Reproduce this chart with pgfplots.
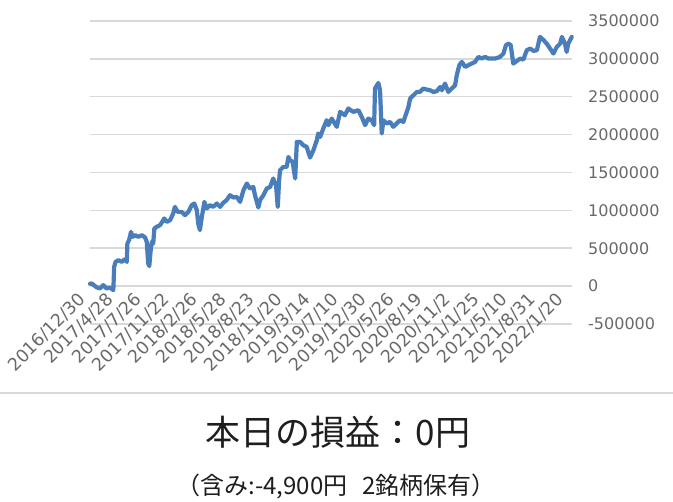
\documentclass[border=0pt]{standalone}
\usepackage{fontspec}
\setmainfont{DejaVu Sans}
\newfontfamily\jp{Noto Sans CJK JP}
\usepackage{pgfplots}
\pgfplotsset{compat=1.18}
\definecolor{lineblue}{RGB}{74,126,187}
\definecolor{gridgray}{RGB}{217,217,217}
\definecolor{labelgray}{RGB}{105,105,105}
\definecolor{titlegray}{RGB}{30,30,30}

\begin{document}
\begin{tikzpicture}[x=1pt,y=1pt]
\useasboundingbox (0,0) rectangle (673,502);
\begin{axis}[
    at={(90pt,178pt)}, anchor=south west,
    scale only axis, width=482pt, height=303pt,
    xmin=0, xmax=17.15,
    ymin=-500000, ymax=3500000,
    axis line style={draw=none},
    major tick length=0pt,
    ymajorgrids,
    grid style={gridgray, line width=1.5pt},
    ytick={-500000,0,500000,1000000,1500000,2000000,2500000,3000000,3500000},
    yticklabels={-500000,0,500000,1000000,1500000,2000000,2500000,3000000,3500000},
    scaled y ticks=false,
    yticklabel pos=right,
    yticklabel style={anchor=west, inner sep=0pt, xshift=16pt,
        font=\fontsize{16}{16}\selectfont, text=labelgray},
    xtick={0,...,17},
    xticklabels={2016/12/30,2017/4/28,2017/7/26,2017/11/22,2018/2/26,2018/5/28,
        2018/8/23,2018/11/20,2019/3/14,2019/7/10,2019/12/30,2020/5/26,2020/8/19,
        2020/11/2,2021/1/25,2021/5/10,2021/8/31,2022/1/20},
    xticklabel style={rotate=45, anchor=north east, inner sep=0pt,
        xshift=14pt, yshift=32pt,
        font=\fontsize{17.5}{17.5}\selectfont, text=labelgray},
    clip=false,
]
% daily cumulative P/L (x in label intervals)
\addplot[lineblue, line width=4.2pt, line join=round, line cap=round, mark=none] coordinates {
    (0,30000) (0.06,35000) (0.24,-17000) (0.36,-30000) (0.47,13000) (0.59,-30000)
    (0.71,-20000) (0.83,-53000) (0.86,255000) (0.91,320000) (1.01,343000) (1.13,320000)
    (1.23,352000) (1.31,320000) (1.33,563000) (1.39,607000) (1.46,716000) (1.51,650000)
    (1.60,673000) (1.72,650000) (1.84,673000) (1.96,642000) (2.02,585000) (2.07,300000)
    (2.11,264000) (2.16,475000) (2.20,585000) (2.25,563000) (2.29,761000) (2.37,782000)
    (2.49,805000) (2.57,848000) (2.64,893000) (2.73,848000) (2.85,870000) (2.96,959000)
    (3.02,1046000) (3.12,980000) (3.26,980000) (3.38,937000) (3.50,980000) (3.62,1069000)
    (3.71,1091000) (3.80,1003000) (3.85,827000) (3.91,739000) (3.98,914000) (4.07,1112000)
    (4.15,1025000) (4.27,1069000) (4.39,1046000) (4.51,1091000) (4.63,1046000) (4.74,1099000)
    (4.86,1135000) (4.98,1200000) (5.10,1170000) (5.22,1178000) (5.34,1112000) (5.46,1266000)
    (5.58,1354000) (5.69,1289000) (5.81,1310000) (5.87,1200000) (5.99,1038000) (6.05,1135000)
    (6.17,1200000) (6.29,1289000) (6.41,1310000) (6.52,1420000) (6.62,1332000) (6.68,1046000)
    (6.73,1398000) (6.76,1530000) (6.88,1574000) (7.00,1574000) (7.06,1706000) (7.12,1662000)
    (7.21,1640000) (7.30,1420000) (7.36,1904000) (7.47,1904000) (7.59,1860000) (7.71,1838000)
    (7.83,1697000) (7.95,1794000) (8.07,1926000) (8.12,2015000) (8.19,1970000) (8.30,2080000)
    (8.42,2190000) (8.48,2125000) (8.60,2212000) (8.78,2103000) (8.90,2300000) (9.07,2256000)
    (9.19,2345000) (9.37,2300000) (9.55,2322000) (9.67,2234000) (9.79,2125000) (9.90,2212000)
    (10.02,2190000) (10.11,2125000) (10.14,2608000) (10.26,2682000) (10.32,2586000) (10.38,2015000)
    (10.44,2190000) (10.56,2146000) (10.68,2168000) (10.79,2103000) (10.91,2146000) (11.03,2190000)
    (11.15,2168000) (11.25,2278000) (11.33,2366000) (11.39,2476000) (11.51,2520000) (11.63,2564000)
    (11.74,2564000) (11.86,2608000) (11.98,2595000) (12.10,2586000) (12.22,2564000) (12.34,2573000)
    (12.46,2630000) (12.52,2586000) (12.63,2674000) (12.75,2564000) (12.87,2608000) (12.99,2652000)
    (13.05,2784000) (13.14,2916000) (13.23,2960000) (13.35,2894000) (13.46,2916000) (13.58,2938000)
    (13.70,2960000) (13.82,3026000) (13.94,3004000) (14.06,3026000) (14.17,3004000) (14.30,3004000)
    (14.41,3004000) (14.59,3026000) (14.71,3070000) (14.80,3180000) (14.89,3202000) (14.97,3180000)
    (15.06,2938000) (15.19,2972000) (15.30,3004000) (15.42,2991000) (15.54,3114000) (15.66,3136000)
    (15.78,3105000) (15.90,3114000) (16.01,3290000) (16.13,3250000) (16.25,3202000) (16.37,3136000)
    (16.49,3070000) (16.61,3158000) (16.73,3202000) (16.79,3290000) (16.90,3202000) (16.96,3092000)
    (17.02,3202000) (17.14,3290000)
};
\end{axis}
\draw[gridgray, line width=1.5pt] (0,109) -- (673,109);
\node[font=\jp\fontsize{35}{35}\selectfont, text=titlegray] at (338,70) {本日の損益：0円};
\node[font=\jp\fontsize{24}{24}\selectfont, text=titlegray] at (336,15) {（含み:-4,900円\hspace{0.6em}2銘柄保有）};
\end{tikzpicture}
\end{document}
